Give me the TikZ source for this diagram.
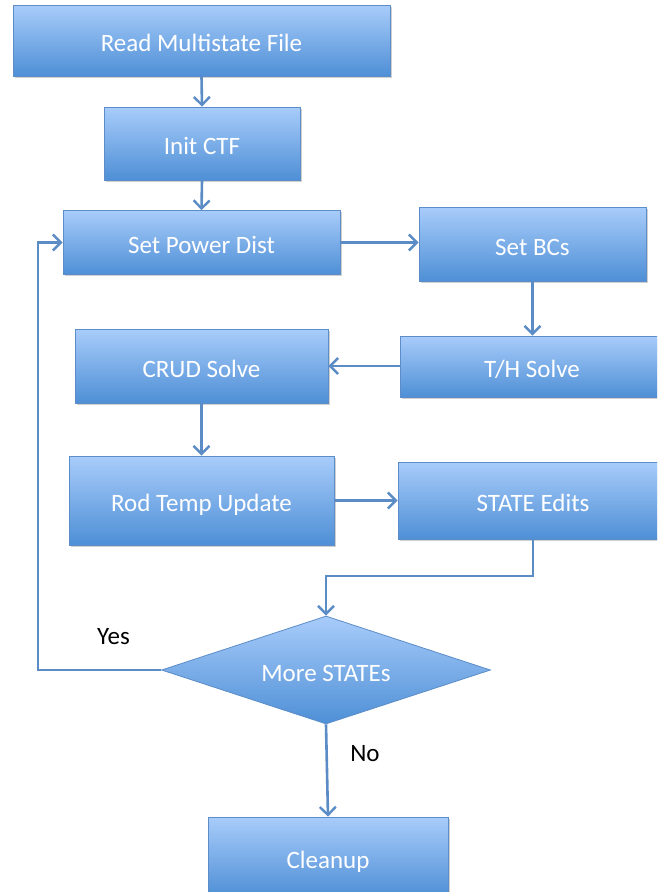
\documentclass[tikz,border=0pt]{standalone}
\usepackage{fontspec}
\setmainfont{Carlito}
\usetikzlibrary{shapes.geometric,arrows.meta,shadows,calc}
\definecolor{boxtop}{HTML}{A8CCFA}
\definecolor{boxbot}{HTML}{4E8FD6}
\definecolor{boxline}{HTML}{5C8DC8}
\definecolor{arrowc}{HTML}{5B8CC6}
\tikzset{
  stepbox/.style={rectangle, draw=boxline, line width=0.8pt, top color=boxtop, bottom color=boxbot,
    text=white, font=\fontsize{25}{29}\selectfont, inner sep=0pt, text height=22pt, text depth=0pt,
    drop shadow={shadow xshift=1.5pt, shadow yshift=-1.5pt, opacity=0.3, fill=black!60}},
  decbox/.style={diamond, draw=boxline, line width=0.8pt, top color=boxtop, bottom color=boxbot,
    text=white, font=\fontsize{25}{29}\selectfont, inner sep=0pt, text height=22pt, text depth=0pt},
  flow/.style={draw=arrowc, line width=2.6pt, -{Straight Barb[length=8pt,width=16pt,line width=2.4pt]}},
  lbl/.style={text=black, font=\fontsize{25}{29}\selectfont, inner sep=0pt}
}
\begin{document}
\begin{tikzpicture}[x=1pt,y=-1pt]
\clip (0,0) rectangle (657,892);
\fill[white] (0,0) rectangle (657,892);
\node[stepbox, minimum width=377pt, minimum height=71pt] (read) at (201.5,40.5) {Read Multistate File};
\node[stepbox, minimum width=196pt, minimum height=73pt] (init) at (202,143.5) {Init CTF};
\node[stepbox, minimum width=277pt, minimum height=64pt] (power) at (201.5,242.5) {Set Power Dist};
\node[stepbox, minimum width=227pt, minimum height=74pt] (bcs) at (532.5,244) {Set BCs};
\node[stepbox, minimum width=264pt, minimum height=61pt] (th) at (532,366.5) {T/H Solve};
\node[stepbox, minimum width=253pt, minimum height=74pt] (crud) at (201.5,366) {CRUD Solve};
\node[stepbox, minimum width=265pt, minimum height=89pt] (rod) at (201.5,500.5) {Rod Temp Update};
\node[stepbox, minimum width=270pt, minimum height=77pt] (edits) at (533,500.5) {STATE Edits};
\node[decbox, minimum width=329pt, minimum height=108pt, shape aspect=3.05] (more) at (326,670) {More STATEs};
\node[stepbox, minimum width=240pt, minimum height=80pt] (clean) at (328,857) {Cleanup};
\coordinate (j1) at (533,576);
\coordinate (j2) at (326,576);
\coordinate (l1) at (38,670);
\coordinate (l2) at (38,242.5);
\node[lbl] (yes) at (113.5,637) {Yes};
\node[lbl] (no) at (365,754) {No};
\draw[flow] (read.south) -- (init.north);
\draw[flow] (init.south) -- (power.north);
\draw[flow] (power.east) -- (bcs.west |- power.east);
\draw[flow] (bcs.south) -- (bcs.south |- th.north);
\draw[flow] (th.west |- crud.east) -- (crud.east);
\draw[flow] (crud.south) -- (rod.north);
\draw[flow] (rod.east) -- (edits.west |- rod.east);
\draw[flow] (edits.south) -- (j1) -- (j2) -- (more.north);
\draw[flow] (more.west) -- (l1) -- (l2) -- (power.west);
\draw[flow] (more.south) -- (clean.north);
\end{tikzpicture}
\end{document}
